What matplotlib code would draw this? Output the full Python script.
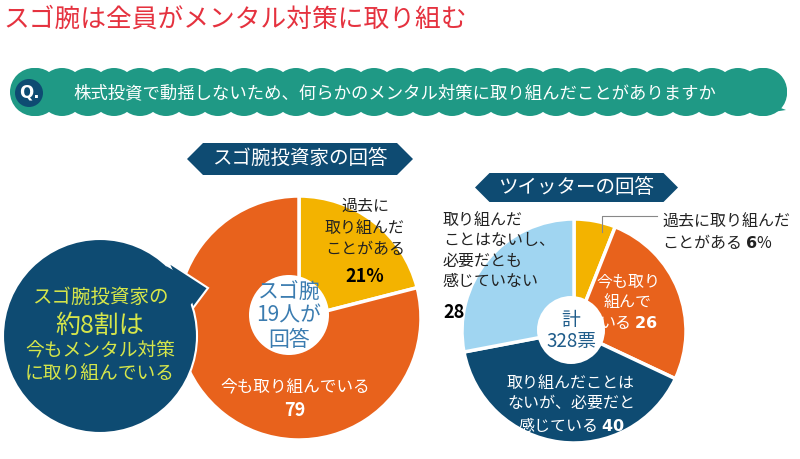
import numpy as np
import matplotlib
matplotlib.use('Agg')
import matplotlib.pyplot as plt
from matplotlib import patches

plt.rcParams['font.family'] = ['Noto Sans CJK JP', 'DejaVu Sans']

# data
title = 'スゴ腕は全員がメンタル対策に取り組む'
question = '株式投資で動揺しないため、何らかのメンタル対策に取り組んだことがありますか'

pro_header = 'スゴ腕投資家の回答'
pro_labels = ['過去に\n取り組んだ\nことがある', '今も取り組んでいる']
pro_values = [21, 79]
pro_center = 'スゴ腕\n19人が\n回答'

tw_header = 'ツイッターの回答'
tw_labels = ['過去に取り組んだ\nことがある', '今も取り\n組んで\nいる',
             '取り組んだことは\nないが、必要だと\n感じている', '取り組んだ\nことはないし、\n必要だとも\n感じていない']
tw_values = [6, 26, 40, 28]
tw_center = '計\n328票'

bubble_lines = ['スゴ腕投資家の', '約8割は', '今もメンタル対策', 'に取り組んでいる']

ORANGE = '#E8621C'
YELLOW = '#F3B300'
NAVY = '#0E4B72'
LIGHT = '#A0D5F1'
TEAL = '#1F9985'
RED = '#E5323F'
LIME = '#D6E64A'

W, H = 800, 459
def yy(y):
    return H - y

def bold(n, pct=False):
    return f'$\\bf{{{n}}}$' + ('%' if pct else '')

fig = plt.figure(figsize=(8, 4.59), dpi=100)
ax = fig.add_axes([0, 0, 1, 1])

# title
ax.text(3, yy(20), title, color=RED, fontsize=18.5, va='center', ha='left')

# scalloped question banner
top, bot = 68, 116
ax.add_patch(patches.Rectangle((36, yy(bot - 4)), 728, (bot - top) - 8, color=TEAL, lw=0))
for cx in np.arange(36, 765, 26):
    ax.add_patch(patches.Circle((cx, yy(top + 23)), 23, color=TEAL, lw=0))
    ax.add_patch(patches.Circle((cx, yy(bot - 23)), 23, color=TEAL, lw=0))
ax.add_patch(patches.Circle((34, yy(92)), 24, color=TEAL, lw=0))
ax.add_patch(patches.Circle((762, yy(92)), 24, color=TEAL, lw=0))
ax.add_patch(patches.Polygon([(760, yy(100)), (786, yy(110)), (760, yy(114))], color=TEAL, lw=0))
ax.add_patch(patches.Circle((29, yy(93)), 14, color=NAVY, lw=0))
ax.text(29, yy(93), 'Q.', color='white', fontsize=12, fontweight='bold', ha='center', va='center',
        family='DejaVu Sans')
ax.text(73, yy(93), question, color='white', fontsize=12.5, ha='left', va='center')


def header(x0, x1, y0, y1, text):
    yc = (y0 + y1) / 2
    d = (y1 - y0) / 2
    pts = [(x0, yy(yc)), (x0 + d, yy(y0)), (x1 - d, yy(y0)), (x1, yy(yc)),
           (x1 - d, yy(y1)), (x0 + d, yy(y1))]
    ax.add_patch(patches.Polygon(pts, color=NAVY, lw=0))
    ax.text((x0 + x1) / 2, yy(yc), text, color='white', fontsize=14, ha='center', va='center')


header(187, 413, 143, 175, pro_header)
header(475, 678, 173, 202, tw_header)

# left pie
wp = dict(edgecolor='white', linewidth=2.5)
ax.pie(pro_values, colors=[YELLOW, ORANGE], startangle=90, counterclock=False,
       radius=122, center=(299, yy(318)), frame=True, wedgeprops=wp)
ax.add_patch(patches.Circle((289, yy(315)), 40, color='white', lw=0))
ax.text(289, yy(316), pro_center, color='#3B7CB0', fontsize=15, ha='center', va='center',
        linespacing=1.1)
ax.text(365, yy(228), pro_labels[0], color='#222222', fontsize=11.5, ha='center', va='center',
        linespacing=1.35)
ax.text(365, yy(276), f'{pro_values[0]}%', color='black', fontsize=13, fontweight='bold',
        ha='center', va='center')
ax.text(295, yy(387), pro_labels[1], color='white', fontsize=12, ha='center', va='center')
ax.text(295, yy(411), str(pro_values[1]), color='white', fontsize=13, fontweight='bold',
        ha='center', va='center')

# callout bubble
ax.add_patch(patches.Polygon([(168, yy(262)), (208, yy(288)), (190, yy(312))],
                             facecolor=NAVY, edgecolor='white', lw=1.5))
ax.add_patch(patches.Circle((100, yy(336)), 97, facecolor=NAVY, edgecolor='white', lw=1.5))
ax.add_patch(patches.Polygon([(166, yy(266)), (205, yy(288)), (186, yy(310))], color=NAVY, lw=0))
bub_y = [297, 326, 351, 374]
bub_fs = [14, 18, 13.5, 13.5]
for line, y, fs in zip(bubble_lines, bub_y, bub_fs):
    ax.text(100, yy(y), line, color=LIME, fontsize=fs, ha='center', va='center')

# right pie
ax.pie(tw_values, colors=[YELLOW, ORANGE, NAVY, LIGHT], startangle=90, counterclock=False,
       radius=112, center=(574, yy(331)), frame=True, wedgeprops=wp)
ax.add_patch(patches.Circle((571, yy(330)), 34, color='white', lw=0))
ax.text(571, yy(331), tw_center, color='#1F5C8A', fontsize=13.5, ha='center', va='center',
        linespacing=1.05)
ax.plot([602, 602, 657], [yy(232), yy(216), yy(216)], color='#888888', lw=0.8)
ax.text(662, yy(233), tw_labels[0] + ' ' + bold(tw_values[0], True), color='#222222',
        fontsize=11.5, ha='left', va='center', linespacing=1.15)
ax.text(628, yy(303), tw_labels[1] + ' ' + bold(tw_values[1]), color='white', fontsize=11.5,
        ha='center', va='center', linespacing=1.25)
ax.text(571, yy(405), tw_labels[2] + ' ' + bold(tw_values[2]), color='white', fontsize=11.5,
        ha='center', va='center', linespacing=1.25)
ax.text(443, yy(251), tw_labels[3], color='#222222', fontsize=11.5, ha='left', va='center',
        linespacing=1.25)
ax.text(443, yy(312), str(tw_values[3]), color='black', fontsize=13, fontweight='bold',
        ha='left', va='center')

ax.set_xlim(0, W)
ax.set_ylim(0, H)
ax.set_aspect('equal')
ax.axis('off')
fig.savefig('out.png', dpi=100)
